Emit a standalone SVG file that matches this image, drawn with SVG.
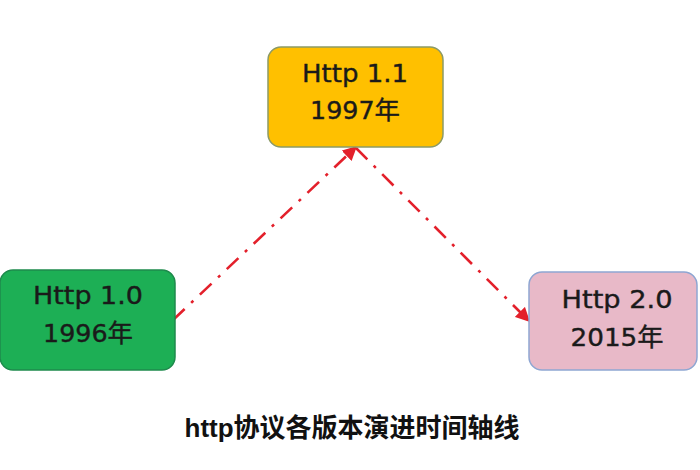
<svg xmlns="http://www.w3.org/2000/svg" width="700" height="470" viewBox="0 0 700 470">
<defs>
<style>
.lbl{font-family:"DejaVu Sans","Liberation Sans","Noto Sans CJK SC",sans-serif;font-size:25px;fill:#1a1a1a;stroke:#1a1a1a;stroke-width:0.4;text-anchor:middle}
.edge{fill:none;stroke:#E3202B;stroke-width:2.6;stroke-dasharray:16 9 3 9}
.title{font-family:"Liberation Sans","Noto Sans CJK SC",sans-serif;font-size:26px;font-weight:bold;fill:#111;text-anchor:middle}
</style>
<marker id="arr" viewBox="0 0 10 10" refX="9" refY="5" markerWidth="5.5" markerHeight="5.5" orient="auto" markerUnits="strokeWidth">
<path d="M0,0 L10,5 L0,10 z" fill="#E3202B"/>
</marker>
</defs>
<rect width="700" height="470" fill="#fff"/>
<g id="connectors">
<path class="edge" d="M173,320 L356,147" marker-end="url(#arr)"/>
<path class="edge" d="M356,148 L529,321" marker-end="url(#arr)"/>
</g>
<g id="node-http11">
<rect x="268" y="47" width="175" height="100" rx="13" fill="#FFC000" stroke="#8C9A66" stroke-width="1.5"/>
<text class="lbl" x="355" y="82" textLength="106" lengthAdjust="spacingAndGlyphs">Http 1.1</text>
<text class="lbl" x="355" y="119" textLength="90" lengthAdjust="spacingAndGlyphs">1997年</text>
</g>
<g id="node-http10">
<rect x="0" y="270" width="175" height="100" rx="13" fill="#1DAF55" stroke="#1E8A4C" stroke-width="1.5"/>
<text class="lbl" x="88" y="304" textLength="110" lengthAdjust="spacingAndGlyphs">Http 1.0</text>
<text class="lbl" x="88" y="342" textLength="90" lengthAdjust="spacingAndGlyphs">1996年</text>
</g>
<g id="node-http20">
<rect x="529" y="272" width="168" height="98" rx="13" fill="#E8B9C8" stroke="#8EA6D2" stroke-width="1.5"/>
<text class="lbl" x="617" y="308" textLength="111" lengthAdjust="spacingAndGlyphs">Http 2.0</text>
<text class="lbl" x="617" y="346" textLength="93" lengthAdjust="spacingAndGlyphs">2015年</text>
</g>
<text class="title" x="352" y="437" textLength="335" lengthAdjust="spacingAndGlyphs">http协议各版本演进时间轴线</text>
</svg>
